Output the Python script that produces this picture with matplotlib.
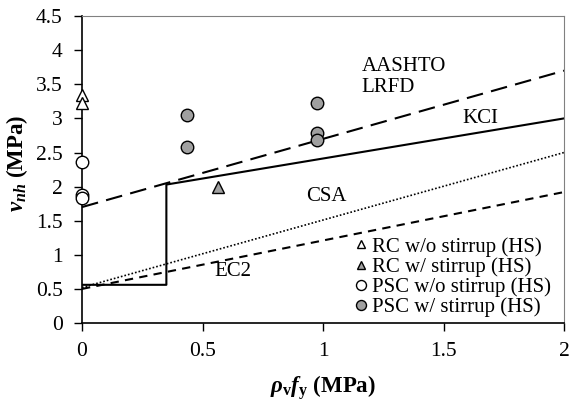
import matplotlib
matplotlib.use("Agg")
import matplotlib.pyplot as plt
import numpy as np

plt.rcParams['font.family'] = ['Liberation Serif', 'DejaVu Serif']
plt.rcParams['mathtext.fontset'] = 'custom'
plt.rcParams['mathtext.it'] = 'Liberation Serif:italic:bold'
plt.rcParams['mathtext.rm'] = 'Liberation Serif:bold'
plt.rcParams['mathtext.bf'] = 'Liberation Serif:bold'

# Data
rc_wo_x = [0, 0]
rc_wo_y = [3.35, 3.22]
rc_w_x = [0.565]
rc_w_y = [2.0]
psc_wo_x = [0, 0, 0]
psc_wo_y = [2.36, 1.88, 1.83]
psc_w_x = [0.435, 0.435, 0.975, 0.975, 0.975]
psc_w_y = [3.05, 2.58, 3.22, 2.78, 2.69]

# Design code lines
aashto_x = [0, 2]
aashto_y = [1.7, 3.7]
kci_x = [0, 0.35, 0.35, 2]
kci_y = [0.56, 0.56, 2.03, 3.0]
csa_x = [0, 2]
csa_y = [0.52, 2.5]
ec2_x = [0, 2]
ec2_y = [0.5, 1.92]

fig = plt.figure(figsize=(5.7, 4.03), dpi=100)
ax = fig.add_axes([0.1439, 0.1985, 0.8456, 0.7615])

ax.plot(aashto_x, aashto_y, color='black', lw=1.5, dashes=(8, 4), zorder=2)
ax.plot(kci_x, kci_y, color='black', lw=1.5, zorder=2)
ax.plot(csa_x, csa_y, color='black', lw=1.2, ls=(0, (1, 1.2)), zorder=2)
ax.plot(ec2_x, ec2_y, color='black', lw=1.5, dashes=(4, 3), zorder=2)

gray = '#a0a0a0'
ax.plot(rc_wo_x, rc_wo_y, ls='none', marker='^', ms=8, mfc='white', mec='black', mew=1.0,
        label='RC w/o stirrup (HS)', clip_on=False, zorder=3)
ax.plot(rc_w_x, rc_w_y, ls='none', marker='^', ms=8, mfc=gray, mec='black', mew=1.0,
        label='RC w/ stirrup (HS)', clip_on=False, zorder=3)
ax.plot(psc_wo_x, psc_wo_y, ls='none', marker='o', ms=9, mfc='white', mec='black', mew=1.0,
        label='PSC w/o stirrup (HS)', clip_on=False, zorder=3)
ax.plot(psc_w_x, psc_w_y, ls='none', marker='o', ms=9, mfc=gray, mec='black', mew=1.0,
        label='PSC w/ stirrup (HS)', clip_on=False, zorder=3)

ax.text(1.16, 3.61, 'AASHTO\nLRFD', fontsize=15, va='center', ha='left', linespacing=1.15)
ax.text(1.58, 3.0, 'KCI', fontsize=15, va='center', ha='left')
ax.text(0.93, 1.86, 'CSA', fontsize=15, va='center', ha='left')
ax.text(0.55, 0.76, 'EC2', fontsize=15, va='center', ha='left')

ax.set_xlim(0, 2)
ax.set_ylim(0, 4.5)
ax.set_xticks([0, 0.5, 1, 1.5, 2])
ax.set_xticklabels(['0', '0.5', '1', '1.5', '2'])
ax.set_yticks(np.arange(0, 4.51, 0.5))
ax.set_yticklabels(['0', '0.5', '1', '1.5', '2', '2.5', '3', '3.5', '4', '4.5'])
ax.tick_params(direction='out', length=6, width=1, labelsize=15.5, pad=8)
for s in ['top', 'right']:
    ax.spines[s].set_color('#808080')
    ax.spines[s].set_linewidth(0.8)
for s in ['left', 'bottom']:
    ax.spines[s].set_linewidth(1.2)

ax.set_xlabel(r'$\rho_{\mathrm{v}}f_{\mathrm{y}}$ (MPa)', fontsize=16.5, fontweight='bold')
ax.set_ylabel(r'$v_{nh}$ (MPa)', fontsize=16.5, fontweight='bold')
ax.xaxis.set_label_coords(0.5, -0.163)
ax.yaxis.set_label_coords(-0.108, 0.52)

leg = ax.legend(loc='lower right', frameon=False, fontsize=15, handlelength=0.6,
                handletextpad=0.25, labelspacing=0.02, borderaxespad=0.1, markerscale=0.8,
                bbox_to_anchor=(0.995, -0.015))

fig.savefig('out.png', dpi=100)
